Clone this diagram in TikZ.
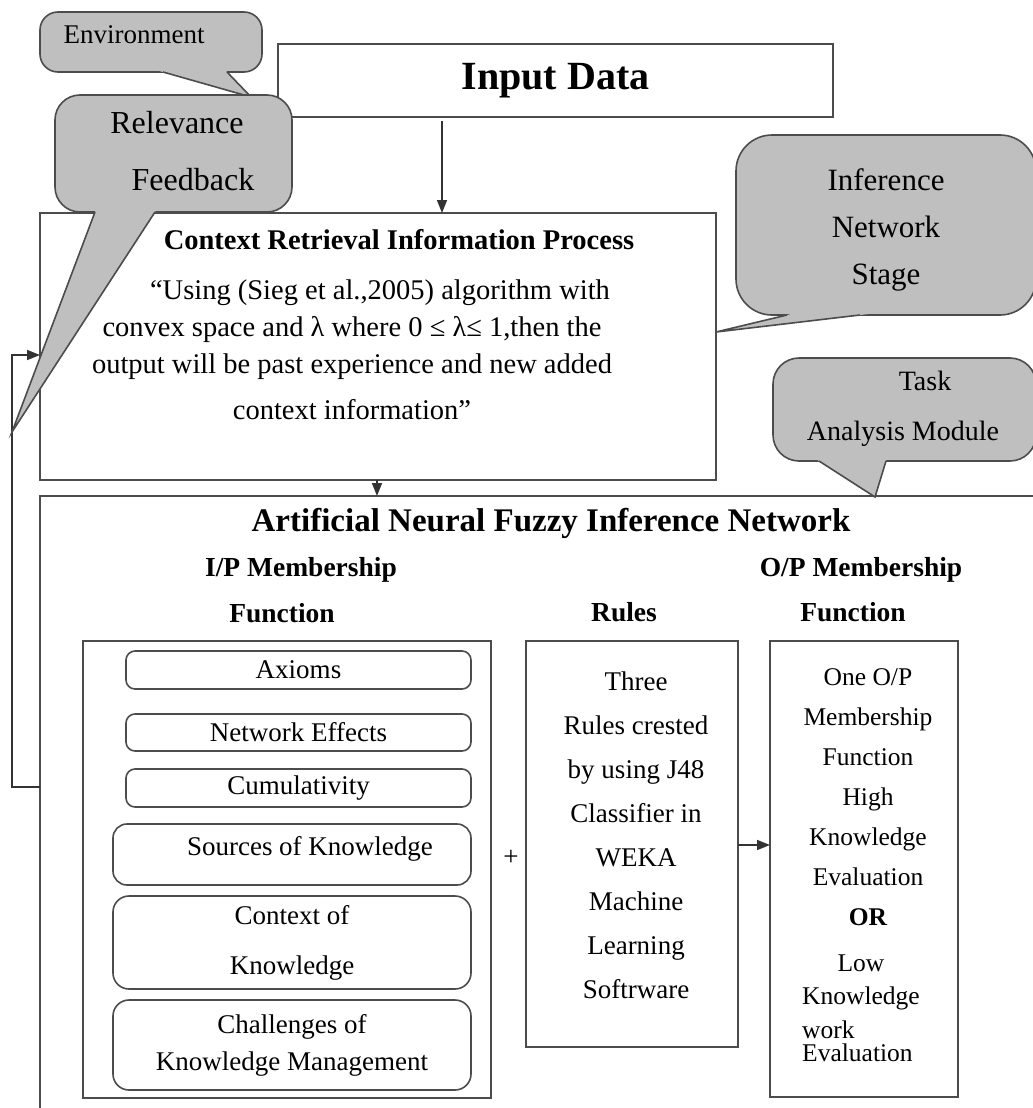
\documentclass[tikz,border=0pt]{standalone}
\usepackage{fontspec}
\setmainfont{Liberation Serif}
\usetikzlibrary{arrows.meta, positioning, calc}
\tikzset{
  box/.style={rectangle, draw=black!70, line width=1.6pt, fill=white,
              outer sep=0pt, inner sep=0pt},
  bubble/.style={rectangle, rounded corners=24pt, draw=black!70,
                 line width=1.6pt, fill=gray!50, outer sep=0pt, inner sep=0pt},
  subbox/.style={rectangle, rounded corners=9pt, draw=black!70,
                 line width=1.6pt, outer sep=0pt, inner sep=0pt, align=center,
                 font=\fontsize{27}{37}\selectfont},
  txt/.style={inner sep=0pt, align=center, font=\fontsize{27}{33}\selectfont},
  head/.style={txt, font=\fontsize{27.5}{33}\selectfont\bfseries},
  arrow/.style={-{Triangle[length=13pt,width=10pt]}, line width=1.6pt, draw=black!80},
  tailfill/.style={fill=gray!50},
  tailline/.style={draw=black!70, line width=1.6pt, line join=miter},
}

\begin{document}
\begin{tikzpicture}[x=1pt, y=-1pt]
  \useasboundingbox (0,0) rectangle (1033,1108);
  \clip (0,0) rectangle (1033,1108);

  % main blocks
  \node[box, anchor=north west, minimum width=676pt, minimum height=267pt] (crip) at (40,213) {};
  \node[box, anchor=north west, minimum width=1010pt, minimum height=650pt] (anfin) at (40,496) {};
  \node[box, anchor=north west, minimum width=555pt, minimum height=73pt,
        font=\fontsize{40}{44}\selectfont\bfseries] (input) at (278,44) {Input Data};

  % connectors
  \coordinate (in-x) at (442,0);
  \coordinate (cr-x) at (377,0);
  \coordinate (loop-low) at (12,787);
  \coordinate (loop-high) at (12,355);
  \coordinate (arr-y) at (0,845);
  \draw[arrow, shorten <=4pt] (input.south -| in-x) -- (crip.north -| in-x);
  \draw[arrow] (crip.south -| cr-x) -- (anfin.north -| cr-x);
  \draw[arrow] (anfin.west |- loop-low) -- (loop-low) -- (loop-high) -- (crip.west |- loop-high);

  % context retrieval
  \node[head, font=\fontsize{28.5}{34}\selectfont\bfseries] (crip-title) at (399,240)
    {Context Retrieval Information Process};
  \node[txt, font=\fontsize{28.5}{37}\selectfont] (crip-body) at (352,350)
    {\hspace*{56pt}“Using (Sieg et al.,2005) algorithm with\\
     convex space and λ where 0 ≤ λ≤ 1,then the\\
     output will be past experience and new added\\[9pt]
     context information”};

  % fuzzy inference network
  \node[head, font=\fontsize{33}{38}\selectfont\bfseries] (anfin-title) at (551,523)
    {Artificial Neural Fuzzy Inference Network};
  \node[head] (ip-head1) at (301,570) {I/P Membership};
  \node[head] (ip-head2) at (282,613) {Function};
  \node[head] (rules-head) at (624,612) {Rules};
  \node[head] (op-head1) at (861,570) {O/P Membership};
  \node[head] (op-head2) at (853,612) {Function};

  \node[box, anchor=north west, minimum width=408pt, minimum height=457pt] (ipbox) at (83,641) {};
  \node[subbox, anchor=north east, minimum width=345pt, minimum height=38pt] (axioms) at (471,651) {Axioms};
  \node[subbox, anchor=north east, minimum width=345pt, minimum height=37pt] (neteff) at (471,714) {Network Effects};
  \node[subbox, anchor=north east, minimum width=345pt, minimum height=38pt] (cumul) at (471,769) {Cumulativity};
  \node[subbox, anchor=north east, minimum width=358pt, minimum height=61pt,
        rounded corners=14pt, text depth=18pt] (sources) at (471,824) {\hspace*{36pt}Sources of Knowledge};
  \node[subbox, anchor=north east, minimum width=358pt, minimum height=93pt,
        rounded corners=16pt, font=\fontsize{27}{50}\selectfont] (ctxknow) at (471,896) {Context of\\Knowledge};
  \node[subbox, anchor=north east, minimum width=358pt, minimum height=90pt,
        rounded corners=16pt] (challenge) at (471,1000) {Challenges of\\Knowledge Management};

  \node[txt] (plus) at (511,858) {+};

  \node[box, anchor=north west, minimum width=212pt, minimum height=406pt] (rules) at (526,641) {};
  \node[txt, font=\fontsize{27}{44}\selectfont] (rules-txt) at (636,835)
    {Three\\Rules crested\\by using J48\\Classifier in\\WEKA\\Machine\\Learning\\Softrware};

  \node[box, anchor=north west, minimum width=188pt, minimum height=456pt] (opbox) at (770,641) {};
  \node[txt, font=\fontsize{25.5}{40}\selectfont] (op-txt1) at (868,797)
    {One O/P\\Membership\\Function\\High\\Knowledge\\Evaluation\\\textbf{OR}};
  \node[txt, font=\fontsize{25.5}{33}\selectfont] (op-txt2) at (861,982) {Low\\Knowledge};
  \node[txt, font=\fontsize{25.5}{23}\selectfont, align=left, anchor=west] (op-txt3) at (802,1041)
    {work\\Evaluation};

  \draw[arrow] (rules.east |- arr-y) -- (opbox.west |- arr-y);

  % callouts
  \node[bubble, rounded corners=18pt, anchor=north west, minimum width=222pt, minimum height=60pt] (env) at (40,12) {};
  \coordinate (env-a) at ($(env.south west)+(123,0)$);
  \coordinate (env-b) at ($(env.south west)+(187,0)$);
  \coordinate (env-tip) at (251,97);
  \fill[tailfill] ($(env-tip)!1.15!(env-a)$) -- (env-tip) -- ($(env-tip)!1.15!(env-b)$) -- cycle;
  \draw[tailline] (env-a) -- (env-tip) -- (env-b);
  \node[txt] (env-txt) at (134,35) {Environment};

  \node[bubble, rounded corners=25pt, anchor=north west, minimum width=237pt, minimum height=117pt] (relev) at (55,95) {};
  \coordinate (relev-a) at ($(relev.south west)+(40,0)$);
  \coordinate (relev-b) at ($(relev.south west)+(100,0)$);
  \coordinate (relev-tip) at (12,432);
  \fill[tailfill] ($(relev-tip)!1.05!(relev-a)$) -- (relev-tip) -- ($(relev-tip)!1.05!(relev-b)$) -- cycle;
  \draw[tailline] (relev-a) -- (relev-tip) -- (relev-b);
  \node[txt, font=\fontsize{32}{36}\selectfont] (relev-txt1) at (177,123) {Relevance};
  \node[txt, font=\fontsize{32}{36}\selectfont] (relev-txt2) at (193,180) {Feedback};

  \node[bubble, rounded corners=36pt, anchor=north west, minimum width=300pt, minimum height=180pt] (infer) at (736,135) {};
  \coordinate (infer-a) at ($(infer.south west)+(51,0)$);
  \coordinate (infer-b) at ($(infer.south west)+(124,0)$);
  \coordinate (infer-tip) at (716,332);
  \fill[tailfill] ($(infer-tip)!1.15!(infer-a)$) -- (infer-tip) -- ($(infer-tip)!1.15!(infer-b)$) -- cycle;
  \draw[tailline] (infer-a) -- (infer-tip) -- (infer-b);
  \node[txt, font=\fontsize{31}{47}\selectfont] (infer-txt) at (886,230) {Inference\\Network\\Stage};

  \node[bubble, rounded corners=26pt, anchor=north west, minimum width=263pt, minimum height=103pt] (task) at (773,358) {};
  \coordinate (task-a) at ($(task.south west)+(46,0)$);
  \coordinate (task-b) at ($(task.south west)+(113,0)$);
  \coordinate (task-tip) at (875,497);
  \fill[tailfill] ($(task-tip)!1.15!(task-a)$) -- (task-tip) -- ($(task-tip)!1.15!(task-b)$) -- cycle;
  \draw[tailline] (task-a) -- (task-tip) -- (task-b);
  \node[txt, font=\fontsize{28}{32}\selectfont] (task-txt1) at (925,381) {Task};
  \node[txt, font=\fontsize{28}{32}\selectfont] (task-txt2) at (903,434) {Analysis Module};
\end{tikzpicture}
\end{document}
